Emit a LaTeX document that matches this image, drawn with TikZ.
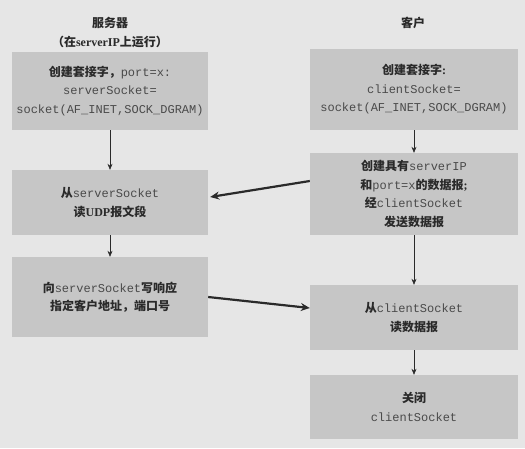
\documentclass[tikz,border=0pt]{standalone}
\usepackage{fontspec}
\setmainfont{Liberation Serif}
\setmonofont{Liberation Mono}
\newfontfamily\zh{Noto Sans CJK SC}
\usetikzlibrary{arrows.meta}
\definecolor{bggray}{HTML}{E6E6E6}
\definecolor{boxgray}{HTML}{C6C6C6}
\definecolor{ink}{HTML}{2A2A2A}
\definecolor{monoink}{HTML}{4A4A4A}
\newcommand{\zz}[1]{{\zh\bfseries #1}}
\newcommand{\mm}[1]{{\color{monoink}\texttt{#1}}}
\begin{document}
\begin{tikzpicture}[x=1pt,y=-1pt,
  box/.style={fill=boxgray, inner sep=0pt, align=center, text=ink, font=\fontsize{12}{18.5}\selectfont},
  lbox/.style={box, minimum width=196pt},
  rbox/.style={box, minimum width=208pt},
  flow/.style={draw=ink, line width=0.6pt, -{Stealth[length=6pt,width=5pt]}},
  msg/.style={draw=ink, line width=2.2pt, -{Stealth[length=9pt,width=8pt]}},
  title/.style={text=ink, font=\fontsize{12}{14}\selectfont, inner sep=0pt}]
\fill[bggray] (0,0) rectangle (525,448);
\useasboundingbox (0,0) rectangle (525,448);
% titles
\node[title] (ts) at (110,23) {\zz{服务器}};
\node[title] (ts2) at (110,42) {\zz{（在}\textbf{serverIP}\zz{上运行）}};
\node[title] (tc) at (413,23) {\zz{客户}};
% server boxes
\node[lbox, minimum height=78pt] (L1) at (110,91) {\zz{创建套接字，}\mm{port=x:}\\\mm{serverSocket=}\\\mm{socket(AF\_INET,SOCK\_DGRAM)}};
\node[lbox, minimum height=65pt] (L2) at (110,202.5) {\zz{从}\mm{serverSocket}\\\zz{读}\textbf{UDP}\zz{报文段}};
\node[lbox, minimum height=80pt] (L3) at (110,297) {\zz{向}\mm{serverSocket}\zz{写响应}\\\zz{指定客户地址，端口号}};
% client boxes
\node[rbox, minimum height=81pt] (R1) at (414,89.5) {\zz{创建套接字}\textbf{:}\\\mm{clientSocket=}\\\mm{socket(AF\_INET,SOCK\_DGRAM)}};
\node[rbox, minimum height=82pt] (R2) at (414,194) {\zz{创建具有}\mm{serverIP}\\\zz{和}\mm{port=x}\zz{的数据报}\textbf{;}\\\zz{经}\mm{clientSocket}\\\zz{发送数据报}};
\node[rbox, minimum height=65pt] (R3) at (414,317.5) {\zz{从}\mm{clientSocket}\\\zz{读数据报}};
\node[rbox, minimum height=64pt] (R4) at (414,407) {\zz{关闭}\\\mm{clientSocket}};
% flow arrows
\draw[flow] (L1) -- (L2);
\draw[flow] (L2) -- (L3);
\draw[flow] (R1) -- (R2);
\draw[flow] (R2) -- (R3);
\draw[flow] (R3) -- (R4);
% message arrows
\draw[msg] ([yshift=13pt]R2.west) -- ([xshift=2pt,yshift=5.5pt]L2.east);
\draw[msg] ([yshift=0pt]L3.east) -- ([yshift=9.5pt]R3.west);
\end{tikzpicture}
\end{document}
